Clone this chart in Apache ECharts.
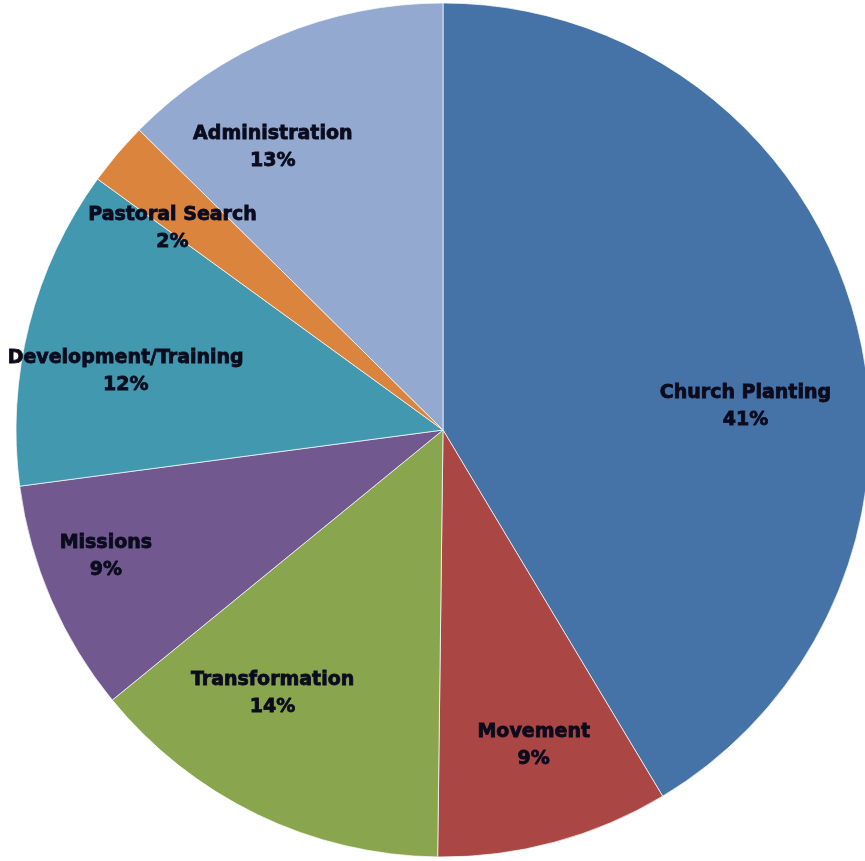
<!DOCTYPE html>
<html>
<head>
<meta charset="utf-8">
<script src="https://cdn.jsdelivr.net/npm/echarts@6/dist/echarts.min.js"></script>
<style>html,body{margin:0;padding:0;background:#fff;}#c{width:865px;height:861px;}</style>
</head>
<body>
<div id="c"></div>
<script>
const categories = ['Church Planting','Movement','Transformation','Missions','Development/Training','Pastoral Search','Administration'];
const values = [41.4, 8.8, 13.9, 8.8, 12.1, 2.4, 12.6];
const colors = ['#4572A7','#AA4643','#89A54E','#71588F','#4198AF','#DB843D','#93A9CF'];
// label nudges (style only), to mimic the original placement of inside labels
const labelNudge = [[-18,65],[4,-5],[-26,-36],[-32,-5],[5,23],[-17,14],[-42,24]];

const chart = echarts.init(document.getElementById('c'), null, {renderer:'canvas'});
const center = [443, 430];
chart.setOption({
  animation:false,
  color: colors,
  series:[
    {
      type:'pie', center: center, radius:[0, 427], startAngle:90, clockwise:true,
      data: categories.map((n,i)=>({name:n, value:values[i]})),
      label:{show:false}, labelLine:{show:false},
      itemStyle:{borderColor:'rgba(255,255,255,0.7)', borderWidth:1},
      emphasis:{disabled:true}
    },
    {
      type:'pie', center: center, radius:[232, 427], startAngle:90, clockwise:true,
      data: categories.map((n,i)=>({name:n, value:values[i], label:{offset:labelNudge[i]}})),
      silent:true,
      itemStyle:{color:'rgba(0,0,0,0)', borderWidth:0},
      labelLine:{show:false},
      label:{show:true, position:'inside', color:'#0b0b1e', fontFamily:'DejaVu Sans', fontWeight:'bold', fontSize:19, lineHeight:27,
        textBorderColor:'#0b0b1e', textBorderWidth:0.8,
        formatter: p => p.name + '\n' + Math.round(p.percent) + '%'},
      emphasis:{disabled:true}
    }
  ]
});
</script>
</body>
</html>
